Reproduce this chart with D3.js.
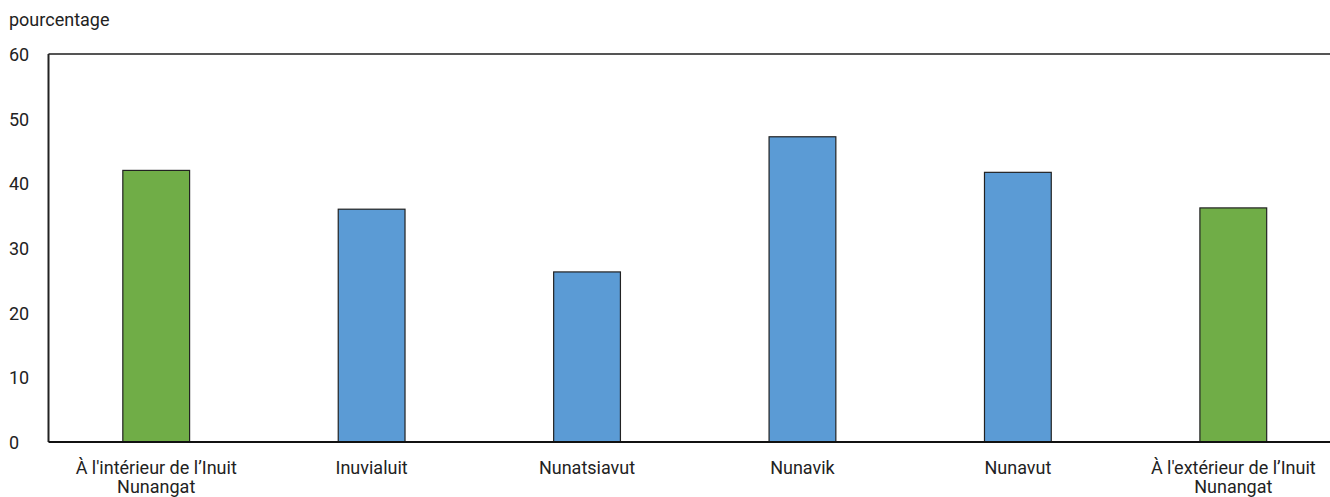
<!DOCTYPE html>
<html><head><meta charset="utf-8">
<script src="https://cdn.jsdelivr.net/npm/d3@7"></script>
<style>
body{margin:0;background:#fff;}
text{font-family:"Roboto",sans-serif;font-size:18px;fill:#222;}
</style></head>
<body><svg id="c" width="1330" height="497"></svg>
<script>
const categories = ["À l'intérieur de l’Inuit|Nunangat","Inuvialuit","Nunatsiavut","Nunavik","Nunavut","À l'extérieur de l’Inuit|Nunangat"];
const values = [42.0, 36.0, 26.3, 47.2, 41.7, 36.2];
const colors = ["#70ad47","#5b9bd5","#5b9bd5","#5b9bd5","#5b9bd5","#70ad47"];
const yTicks = [0,10,20,30,40,50,60];

const svg = d3.select("#c");
const pLeft = 48.5, pTop = 54, pBottom = 442, pRight = 1341;
const x = d3.scaleBand().domain(categories).range([pLeft, pRight]).paddingInner(0.69).paddingOuter(0.345);
const y = d3.scaleLinear().domain([0,60]).range([pBottom, pTop]);

svg.append("text").attr("x",9).attr("y",26).text("pourcentage");

svg.append("line").attr("x1",pLeft).attr("x2",1330).attr("y1",pTop).attr("y2",pTop).attr("stroke","#555").attr("stroke-width",2);
svg.append("line").attr("x1",pLeft).attr("x2",pLeft).attr("y1",pTop).attr("y2",pBottom).attr("stroke","#222").attr("stroke-width",2);

yTicks.forEach(t=>{
  svg.append("text").attr("x",9).attr("y",y(t)+7).text(t);
});

svg.selectAll("rect.bar").data(values).enter().append("rect")
  .attr("x",(d,i)=>x(categories[i])).attr("width",x.bandwidth())
  .attr("y",d=>y(d)).attr("height",d=>pBottom-y(d))
  .attr("fill",(d,i)=>colors[i]).attr("stroke","#222").attr("stroke-width",1.2);

svg.append("line").attr("x1",pLeft).attr("x2",1330).attr("y1",pBottom).attr("y2",pBottom).attr("stroke","#111").attr("stroke-width",2);

categories.forEach(c=>{
  const cx = x(c)+x.bandwidth()/2;
  c.split("|").forEach((p,j)=>{
    svg.append("text").attr("x",cx).attr("y",474+j*19).attr("text-anchor","middle").text(p);
  });
});
</script></body></html>
